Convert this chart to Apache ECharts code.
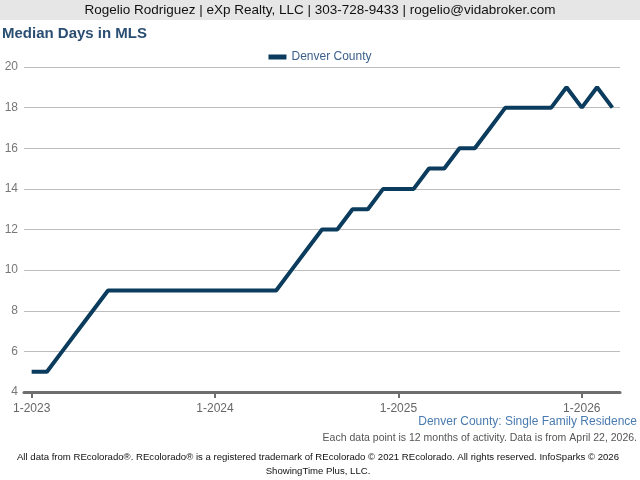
<!DOCTYPE html>
<html><head><meta charset="utf-8">
<script src="https://cdn.jsdelivr.net/npm/echarts@6/dist/echarts.min.js"></script>
<style>html,body{margin:0;padding:0;background:#fff}#c{width:640px;height:480px}</style>
</head><body><div id="c"></div>
<script>
const months = ["1-2023","2-2023","3-2023","4-2023","5-2023","6-2023","7-2023","8-2023","9-2023","10-2023","11-2023","12-2023",
"1-2024","2-2024","3-2024","4-2024","5-2024","6-2024","7-2024","8-2024","9-2024","10-2024","11-2024","12-2024",
"1-2025","2-2025","3-2025","4-2025","5-2025","6-2025","7-2025","8-2025","9-2025","10-2025","11-2025","12-2025",
"1-2026","2-2026","3-2026"];
const denverCounty = [5,5,6,7,8,9,9,9,9,9,9,9,
9,9,9,9,9,10,11,12,12,13,13,14,
14,14,15,15,16,16,17,18,18,18,18,19,
18,19,18];
const yTicks = {min:4, max:20, interval:2};
const seriesName = "Denver County";
const header = "Rogelio Rodriguez | eXp Realty, LLC | 303-728-9433 | rogelio@vidabroker.com";
const title = "Median Days in MLS";
const subtitle = "Denver County: Single Family Residence";
const note = "Each data point is 12 months of activity. Data is from April 22, 2026.";
const footer = "All data from REcolorado®. REcolorado® is a registered trademark of REcolorado © 2021 REcolorado. All rights reserved. InfoSparks © 2026\nShowingTime Plus, LLC.";

const chart = echarts.init(document.getElementById('c'), null, {renderer:'canvas'});
const isYear = (i, v) => String(v).startsWith('1-');
chart.setOption({
  animation:false,
  textStyle:{fontFamily:'Liberation Sans, Arial, sans-serif'},
  graphic:[
    {type:'rect', shape:{x:0,y:0,width:640,height:20}, style:{fill:'#e6e6e6'}},
    {type:'text', x:320, y:10, style:{text:header, fill:'#111', font:'13.5px Liberation Sans', align:'center', verticalAlign:'middle'}},
    {type:'text', x:2, y:34, style:{text:title, fill:'#2b4f72', font:'bold 15px Liberation Sans', align:'left', verticalAlign:'middle'}},
    {type:'text', x:637, y:422, style:{text:subtitle, fill:'#4a7bb0', font:'12px Liberation Sans', align:'right', verticalAlign:'middle'}},
    {type:'text', x:637, y:438, style:{text:note, fill:'#555', font:'10.5px Liberation Sans', align:'right', verticalAlign:'middle'}},
    {type:'text', x:318, y:464, style:{text:footer, fill:'#111', font:'9.6px Liberation Sans', align:'center', verticalAlign:'middle', lineHeight:14}}
  ],
  legend:{top:46, left:'center', itemWidth:18, itemHeight:5, icon:'rect',
    textStyle:{color:'#3b5f8a', fontSize:12, fontFamily:'Liberation Sans'}, data:[seriesName]},
  grid:{left:24, right:20, top:67, bottom:88},
  xAxis:{type:'category', data:months, boundaryGap:true,
    axisLine:{lineStyle:{color:'#6e6e6e', width:3}},
    axisTick:{show:true, interval:isYear, alignWithLabel:true, inside:false, length:6, lineStyle:{color:'#6e6e6e', width:2}},
    axisLabel:{interval:isYear, color:'#666', fontSize:12, margin:11, fontFamily:'Liberation Sans'},
    splitLine:{show:false}},
  yAxis:{type:'value', min:yTicks.min, max:yTicks.max, interval:yTicks.interval,
    axisLine:{show:false}, axisTick:{show:false},
    axisLabel:{color:'#777', fontSize:12, margin:6, fontFamily:'Liberation Sans'},
    splitLine:{lineStyle:{color:'#bdbdbd', width:1}}},
  series:[{name:seriesName, type:'line', data:denverCounty, symbol:'none',
    lineStyle:{color:'#0b3c5d', width:4}, itemStyle:{color:'#0b3c5d'}}]
});
</script></body></html>
